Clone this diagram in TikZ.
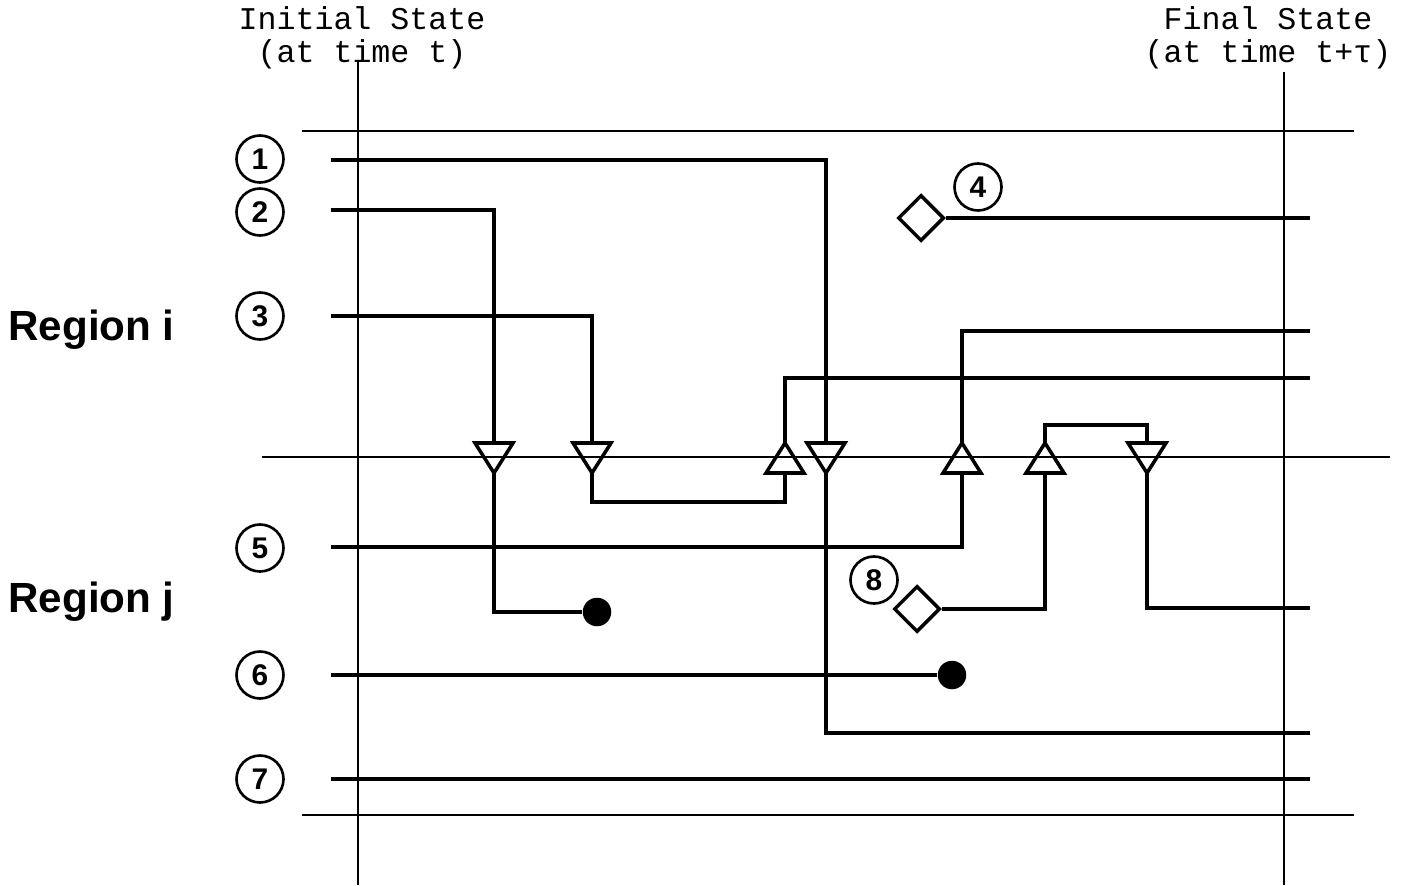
\documentclass[tikz,border=0pt]{standalone}
\usepackage{fontspec}
\setmainfont{Liberation Sans}
\newfontfamily\monof{Liberation Mono}
\usetikzlibrary{shapes.geometric}
\begin{document}
\begin{tikzpicture}[x=0.02cm,y=-0.02cm,
  wire/.style={line width=2.7pt},
  frame/.style={line width=1.1pt},
  tri/.style={line width=2pt, line join=miter},
  num/.style={circle, draw, line width=1.5pt, minimum size=0.94cm, inner sep=0pt,
    font=\fontsize{17}{17}\selectfont\bfseries},
  dia/.style={diamond, draw, line width=2pt, minimum size=0.92cm, inner sep=0pt, fill=white},
  dot/.style={circle, fill=black, minimum size=0.57cm, inner sep=0pt},
  head/.style={font=\monof\fontsize{18}{18.5}\selectfont, align=center},
  region/.style={font=\fontsize{24}{24}\selectfont\bfseries, anchor=base west, inner sep=0pt}
]
\useasboundingbox (0,0) rectangle (1405,885);

% headings
\node[head] (hi) at (362,38) {Initial State\\(at time t)};
\node[head] (hf) at (1268,38) {Final State\\(at time t+τ)};
\node[region] (ri) at (8,340) {Region i};
\node[region] (rj) at (8,612) {Region j};

% frame lines
\coordinate (vlt) at (358,60);  \coordinate (vlb) at (358,885);
\coordinate (vrt) at (1284,72); \coordinate (vrb) at (1284,885);
\coordinate (htl) at (302,131); \coordinate (htr) at (1354,131);
\coordinate (hml) at (262,457); \coordinate (hmr) at (1390,457);
\coordinate (hbl) at (302,815); \coordinate (hbr) at (1354,815);
\draw[frame] (vlt) -- (vlb);
\draw[frame] (vrt) -- (vrb);
\draw[frame] (htl) -- (htr);
\draw[frame] (hml) -- (hmr);
\draw[frame] (hbl) -- (hbr);

% numbered circles
\node[num] (n1) at (260,159) {1};
\node[num] (n2) at (260,212) {2};
\node[num] (n3) at (260,316) {3};
\node[num] (n4) at (978,187) {4};
\node[num] (n5) at (260,548) {5};
\node[num] (n8) at (874,580) {8};
\node[num] (n6) at (260,675) {6};
\node[num] (n7) at (260,779) {7};

% triangles: down at 494, 592, 826, 1147; up at 785, 962, 1045
\foreach \x in {494, 592, 826, 1147} {
  \draw[tri] (\x-19,443) -- (\x+19,443) -- (\x,473) -- cycle;
}
\foreach \x in {785, 962, 1045} {
  \draw[tri] (\x,443) -- (\x+19,473) -- (\x-19,473) -- cycle;
}
\coordinate (atop) at (494,443);  \coordinate (abot) at (494,473);
\coordinate (btop) at (592,443);  \coordinate (bbot) at (592,473);
\coordinate (ctop) at (785,443);  \coordinate (cbot) at (785,473);
\coordinate (dtop) at (826,443);  \coordinate (dbot) at (826,473);
\coordinate (ftop) at (962,443);  \coordinate (fbot) at (962,473);
\coordinate (gtop) at (1045,443); \coordinate (gbot) at (1045,473);
\coordinate (htop) at (1147,443); \coordinate (hbot) at (1147,473);

% diamonds and dots
\node[dia] (d4) at (921,218) {};
\node[dia] (d8) at (917,609) {};
\node[dot] (p2) at (597,612) {};
\node[dot] (p6) at (952,675) {};

% wire start and end points
\coordinate (s1) at (331,160);
\coordinate (s2) at (331,210);
\coordinate (s3) at (331,316);
\coordinate (s5) at (331,547);
\coordinate (s6) at (331,675);
\coordinate (s7) at (331,779);
\coordinate (e1) at (1310,733);
\coordinate (e3) at (1310,378);
\coordinate (e4) at (1310,218);
\coordinate (e5) at (1310,331);
\coordinate (e7) at (1310,779);
\coordinate (e8) at (1310,608);
\coordinate (k3) at (592,502);
\coordinate (k8) at (1045,425);

% wires
\draw[wire] (s1) -| (dtop);
\draw[wire] (dbot) |- (e1);
\draw[wire] (s2) -| (atop);
\draw[wire] (abot) |- (p2);
\draw[wire] (s3) -| (btop);
\draw[wire] (bbot) -- (k3) -| (cbot);
\draw[wire] (ctop) |- (e3);
\draw[wire] (d4.east) -- (e4);
\draw[wire] (s5) -| (fbot);
\draw[wire] (ftop) |- (e5);
\draw[wire] (s6) -- (p6);
\draw[wire] (d8.east) -| (gbot);
\draw[wire] (gtop) -- (k8) -| (htop);
\draw[wire] (hbot) |- (e8);
\draw[wire] (s7) -- (e7);
\end{tikzpicture}
\end{document}
